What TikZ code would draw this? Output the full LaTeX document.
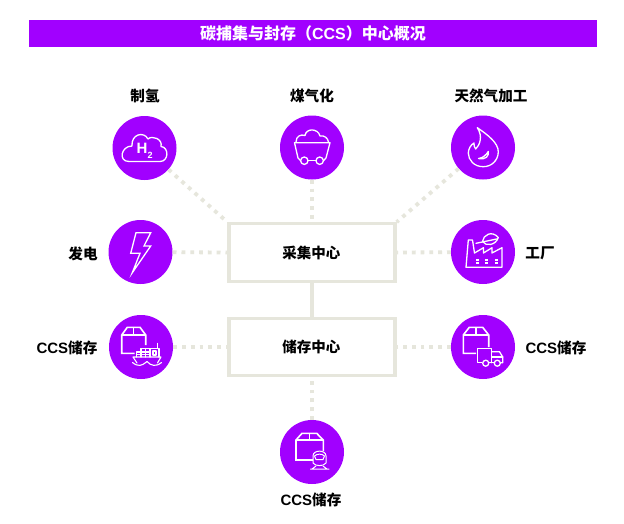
\documentclass[tikz,border=0pt]{standalone}
\usepackage{fontspec}
\setmainfont{Noto Sans CJK SC}
\newfontfamily\latinb{Liberation Sans}
\newcommand{\ccs}{{\latinb\bfseries\fontsize{15}{16}\selectfont CCS}}
\definecolor{vio}{HTML}{A100FF}
\definecolor{stone}{HTML}{E6E6DC}
\tikzset{
  x=1pt,y=-1pt,
  hub/.style={circle,fill=vio,draw=none,minimum size=64pt,inner sep=0pt},
  center box/.style={draw=stone,line width=3.4pt,minimum width=166pt,minimum height=57.5pt,inner sep=0pt,font=\fontsize{14.5}{16}\selectfont\bfseries},
  lab/.style={font=\fontsize{14.6}{16}\selectfont\bfseries,inner sep=0pt,text=black},
  dotline/.style={draw=stone,line width=3.8pt,dash pattern=on 3.8pt off 5pt},
  solidline/.style={draw=stone,line width=3.8pt},
  ico/.style={draw=white,line width=1.3pt,line join=round,line cap=round},
  icob/.style={draw=white,line width=1.6pt,line join=miter}
}
\begin{document}
\begin{tikzpicture}
\useasboundingbox (0,0) rectangle (624,523);
\fill[white] (0,0) rectangle (624,523);
\node[fill=vio,minimum width=568pt,minimum height=27pt,inner sep=0pt,text=white,font=\fontsize{16}{18}\selectfont\bfseries] (title) at (313,33.5) {碳捕集与封存（{\latinb\bfseries CCS}）中心概况};

\node[center box] (cap) at (312,252.5) {\hspace*{-1.5pt}采集中心};
\node[center box] (sto) at (312,347) {\hspace*{-1.5pt}储存中心};

\node[hub] (h2) at (144.5,148) {};
\node[hub] (coal) at (312,147.5) {};
\node[hub] (gas) at (483,147.5) {};
\node[hub] (pow) at (140.5,252) {};
\node[hub] (fac) at (483,252) {};
\node[hub] (ship) at (141,347) {};
\node[hub] (truck) at (483,347) {};
\node[hub] (train) at (312,452) {};

\draw[solidline] (cap) -- (sto);
\draw[dotline] (h2) -- (cap.north west);
\draw[dotline] (coal) -- (cap.north);
\draw[dotline] (gas) -- (cap.north east);
\draw[dotline] (pow) -- (cap.west);
\draw[dotline] (fac) -- (cap.east);
\draw[dotline] (ship) -- (sto.west);
\draw[dotline] (truck) -- (sto.east);
\draw[dotline] (train) -- (sto.south);

\node[lab] (l1) at (145,96) {制氢};
\node[lab] (l2) at (312,96) {煤气化};
\node[lab] (l3) at (491,96) {天然气加工};
\node[lab] (l4) at (83,253.5) {发电};
\node[lab] (l5) at (540,253.5) {工厂};
\node[lab] (l6) at (67,347.5) {\ccs 储存};
\node[lab] (l7) at (556,347.5) {\ccs 储存};
\node[lab] (l8) at (311,499.5) {\ccs 储存};

% cloud
\draw[ico] (129,161.5) -- (160,161.5) .. controls (169,161.5) and (169,147) .. (161,146.5)
  .. controls (163,139) and (152,135) .. (148,139) .. controls (144,131) and (131,134) .. (132,146)
  .. controls (121,146) and (118,161.5) .. (129,161.5) -- cycle;
\node[text=white,font=\latinb\bfseries\fontsize{15}{15}\selectfont,inner sep=0pt] (h) at (142,148.8) {H};
\node[text=white,font=\latinb\bfseries\fontsize{9}{9}\selectfont,inner sep=0pt] (two) at (150.2,155) {2};

% coal cart
\draw[ico] (294.5,142.7) -- (330,142.7) -- (326,158) -- (323.5,160.7);
\draw[ico] (294.5,142.7) -- (298,158) -- (300.6,160.7);
\draw[ico] (308,160.7) -- (316,160.7);
\draw[ico] (304.3,160.7) circle (3.7);
\draw[ico] (319.7,160.7) circle (3.7);
\draw[ico] (296,142) .. controls (296,136) and (301,134) .. (305,135.5)
  .. controls (306,128) and (318,128) .. (320,136) .. controls (324,135) and (328,138) .. (328.5,142);

% flame
\draw[ico] (477.3,127.7) .. controls (488,135) and (498.5,143) .. (498.3,152)
  .. controls (498,161) and (491,166.7) .. (483.3,166.7)
  .. controls (474,166.7) and (468.3,160) .. (468.3,153)
  .. controls (468.3,149) and (471,144.5) .. (474,143)
  .. controls (473.5,145) and (474.5,147.5) .. (475.7,149)
  .. controls (480,145) and (483,136) .. (477.3,127.7) -- cycle;
\draw[ico] (488.3,151.5) .. controls (489,156) and (486,160) .. (478.5,158.5)
  .. controls (483,158) and (486,155) .. (488.3,151.5) -- cycle;

% bolt
\draw[ico,miter limit=10,line join=miter] (136,232.7) -- (150.7,232.7) -- (144,246) -- (150.7,246) -- (132.3,272.7) -- (140,253.3) -- (130.7,253.3) -- cycle;

% factory
\begin{scope}[shift={(440,210)},ico]
\draw (26,57.3) -- (28.3,30) -- (32.5,30) -- (34.5,43) -- (43.5,37.7) -- (43.5,43) -- (52,37.7) -- (52,43) -- (62,37.7) -- (62,57.3) -- cycle;
\draw (36,33.3) -- (56.7,29);
\draw (42.5,31.5) .. controls (43,25) and (52,20) .. (58.3,27.5) .. controls (56,35) and (46,37) .. (42.5,31.5) -- cycle;
\foreach \x in {36,45,55}{\draw[line width=1.2pt,line cap=butt] (\x,50) -- (\x+3.4,50); \draw[line width=1.2pt,line cap=butt] (\x,53) -- (\x+3.4,53);}
\end{scope}

% ship box
\draw[icob] (134.5,353.3) -- (121.7,353.3) -- (121.7,335) -- (127.3,327.3) -- (140,327.3) -- (145.7,335) -- (145.7,345);
\draw[icob] (121.7,335) -- (145.7,335);
\draw[icob] (133.5,327.3) -- (133.5,335);
% ship
\begin{scope}[ico,line width=1.1pt]
\draw (136.5,357) -- (136.5,352) -- (150,352) (141,348.5) -- (150,348.5) -- (150,357);
\draw (136.5,354.5) -- (150,354.5) (141,348.5) -- (141,357) (145.5,348.5) -- (145.5,357);
\draw (150,348.5) -- (159,348.5) -- (159,357);
\draw (153,351) -- (156,351) -- (156,355) -- (153,355) -- cycle;
\draw (157.3,343.5) -- (157.3,348.5);
\draw (133,357) -- (161,357) -- (157.5,363) (133,357) -- (137,363);
\draw (132.5,362.5) .. controls (138,367) and (142,366) .. (147,361.5) .. controls (151,366) and (156,367) .. (161.5,362.5);
\end{scope}

% truck box
\draw[icob] (476,353.3) -- (463.3,353.3) -- (463.3,335) -- (469.3,327.3) -- (482.7,327.3) -- (488.7,335) -- (488.7,347);
\draw[icob] (463.3,335) -- (488.7,335);
\draw[icob] (476,327.3) -- (476,335);
% truck
\begin{scope}[ico]
\draw (481.5,362.7) -- (477.3,362.7) -- (477.3,348.3) -- (491.7,348.3) -- (491.7,362.7);
\draw (491.7,351.7) -- (499.5,351.7) -- (502.7,357) -- (502.7,362.7) -- (500.5,362.7);
\draw (489.5,362.7) -- (494,362.7);
\draw (491.7,357) -- (502.7,357);
\draw (485.7,363.2) circle (3);
\draw (497.3,363.2) circle (3);
\end{scope}

% train box
\draw[icob] (313,460) -- (296,460) -- (296,440) -- (302,433.3) -- (316.7,433.3) -- (323.3,440) -- (323.3,451);
\draw[icob] (296,440) -- (323.3,440);
\draw[icob] (309.3,433.3) -- (309.3,440);
% train
\begin{scope}[ico,line width=1pt]
\draw (313,463) -- (313,456) .. controls (313,449.5) and (326,449.5) .. (326,456) -- (326,463) .. controls (323.5,466.5) and (315.5,466.5) .. (313,463) -- cycle;
\draw (314.5,456) .. controls (317,453.5) and (322,453.5) .. (324.5,456) -- (323,459.5) -- (316,459.5) -- cycle;
\draw (316,466) -- (312,469) (323,466) -- (327,469) (310.5,469) -- (329,469) ;
\end{scope}
\end{tikzpicture}
\end{document}
